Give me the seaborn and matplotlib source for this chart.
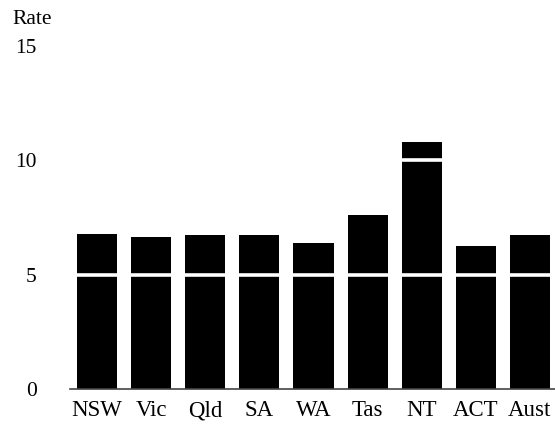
import matplotlib
matplotlib.use("Agg")
import matplotlib.pyplot as plt
import seaborn as sns
import pandas as pd

states = ["NSW", "Vic", "Qld", "SA", "WA", "Tas", "NT", "ACT", "Aust"]
rates = [6.8, 6.65, 6.75, 6.75, 6.4, 7.6, 10.8, 6.27, 6.75]
yticks = [0, 5, 10, 15]

sns.set_theme(style="white")
plt.rcParams['font.family'] = ['Liberation Serif', 'DejaVu Serif']

df = pd.DataFrame({"State": states, "Rate": rates})

fig = plt.figure(figsize=(5.55, 4.25), dpi=100)
ax = fig.add_axes([70/555, 1-389/425, 487/555, (389-46)/425])

sns.barplot(data=df, x="State", y="Rate", color="black", saturation=1,
            width=0.74, edgecolor="none", linewidth=0, ax=ax, zorder=1)

for v in [5, 10]:
    ax.axhline(v, color="white", lw=2.6, zorder=3)

ax.set_ylim(0, 15)
ax.set_xlim(-0.5, 8.5)
ax.set_yticks(yticks)
ax.set_yticklabels([str(t) for t in yticks])
ax.set_xlabel("")
ax.set_ylabel("")
for s in ["top", "right", "left"]:
    ax.spines[s].set_visible(False)
ax.spines["bottom"].set_color("#444444")
ax.spines["bottom"].set_linewidth(1.2)
ax.tick_params(axis="y", length=0, pad=24, labelsize=15.5, colors="black")
ax.tick_params(axis="x", length=0, pad=8, labelsize=16.5, colors="black")
ax.grid(False)

fig.text(32/555, 1-20/425, "Rate", ha="center", va="center", fontsize=15.5, color="black")

fig.savefig("out.png", dpi=100, facecolor="white")
